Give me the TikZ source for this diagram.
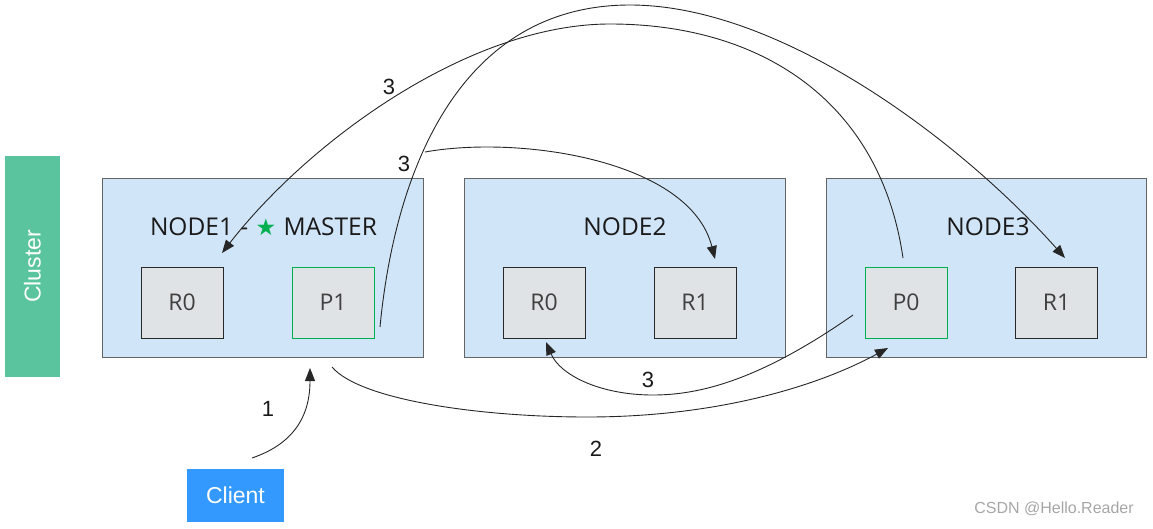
\documentclass[tikz,border=0pt]{standalone}
\usepackage{fontspec}
\setmainfont{Liberation Sans}
\newfontfamily\lblfont{Open Sans}
\newfontfamily\symfont{DejaVu Sans}
\usetikzlibrary{arrows.meta}
\definecolor{nodefill}{RGB}{209,229,248}
\definecolor{nodeline}{RGB}{100,100,100}
\definecolor{boxfill}{RGB}{224,227,229}
\definecolor{boxline}{RGB}{40,40,40}
\definecolor{primline}{RGB}{0,176,80}
\definecolor{clustercol}{RGB}{90,196,158}
\definecolor{clientcol}{RGB}{51,153,255}
\definecolor{txtdark}{RGB}{26,26,26}
\definecolor{txtgray}{RGB}{64,64,64}
\tikzset{
  esnode/.style={draw=nodeline, fill=nodefill, line width=1pt, minimum width=321pt, minimum height=179pt, inner sep=0pt},
  shard/.style={draw=boxline, fill=boxfill, line width=1pt, minimum width=82pt, minimum height=71pt, inner sep=0pt,
    font=\lblfont\fontsize{23}{26}\selectfont, text=txtgray},
  primary/.style={shard, draw=primline},
  title/.style={font=\lblfont\fontsize{24.5}{28}\selectfont, text=txtdark, inner sep=0pt},
  conn/.style={draw=black!85, line width=0.9pt},
  arr/.style={conn, -{Triangle[length=13pt,width=10pt]}},
  num/.style={font=\fontsize{22}{25}\selectfont, text=txtdark, inner sep=0pt}
}
\begin{document}
\begin{tikzpicture}[x=1pt,y=-1pt]
\useasboundingbox (0,0) rectangle (1153,528);
% cluster bar
\node[fill=clustercol, minimum width=55pt, minimum height=221pt, inner sep=0pt] (cluster) at (32.5,266.5) {};
\node[rotate=90, text=white, font=\fontsize{23}{26}\selectfont] (clusterlbl) at (cluster.center) {Cluster};
% nodes
\node[esnode] (n1) at (262.5,267.5) {};
\node[esnode] (n2) at (624.5,267.5) {};
\node[esnode, minimum width=320pt] (n3) at (986,267.5) {};
\node[title] (t1) at (263.5,227) {NODE1\hspace{0.3em}-\hspace{0.3em}{\symfont\color{primline}\fontsize{23}{26}\selectfont ★}\hspace{0.3em}MASTER};
\node[title] (t2) at (625,227) {NODE2};
\node[title] (t3) at (988,227) {NODE3};
% shards
\node[shard] (a0) at (182,302.5) {R0};
\node[primary] (p1) at (333,302.5) {P1};
\node[shard] (b0) at (544,302.5) {R0};
\node[shard] (b1) at (695,302.5) {R1};
\node[primary] (p0) at (906,302.5) {P0};
\node[shard] (c1) at (1056.5,302.5) {R1};
% client
\node[fill=clientcol, minimum width=97pt, minimum height=53pt, inner sep=0pt, text=white, font=\fontsize{23}{26}\selectfont] (client) at (235.5,495.5) {Client};
% free ends
\coordinate (s1) at (252,458);
\coordinate (e1) at (310,368);
\coordinate (s2) at (332,367);
\coordinate (e2) at (888,348);
\coordinate (s3) at (853,315);
\coordinate (e3) at (546,342);
\coordinate (sA) at (380,327);
\coordinate (eA) at (1065,258);
\coordinate (sB) at (903,258);
\coordinate (eB) at (222,253);
\coordinate (sC) at (425,152);
\coordinate (eC) at (715,259);
% connectors
\draw[arr] (s1) .. controls (290,445) and (310,420) .. (e1);
\draw[arr] (s2) .. controls (360,400) and (480,417) .. (587,417) .. controls (720,417) and (820,385) .. (e2);
\draw[arr] (s3) .. controls (760,380) and (700,395) .. (653,395) .. controls (600,395) and (560,375) .. (e3);
\draw[arr] (sA) .. controls (395,170) and (460,5) .. (630,5) .. controls (780,5) and (960,140) .. (eA);
\draw[arr] (sB) .. controls (880,100) and (760,24) .. (610,24) .. controls (470,24) and (310,140) .. (eB);
\draw[arr] (sC) .. controls (520,135) and (690,160) .. (eC);
% labels
\node[num] (l1) at (268,409) {1};
\node[num] (l2) at (596,449) {2};
\node[num] (l3a) at (648,380) {3};
\node[num] (l3b) at (389,87) {3};
\node[num] (l3c) at (404,164) {3};
% watermark
\node[text=black!35, font=\fontsize{16}{19}\selectfont, inner sep=0pt] (wm) at (1054,509) {CSDN @Hello.Reader};
\end{tikzpicture}
\end{document}
